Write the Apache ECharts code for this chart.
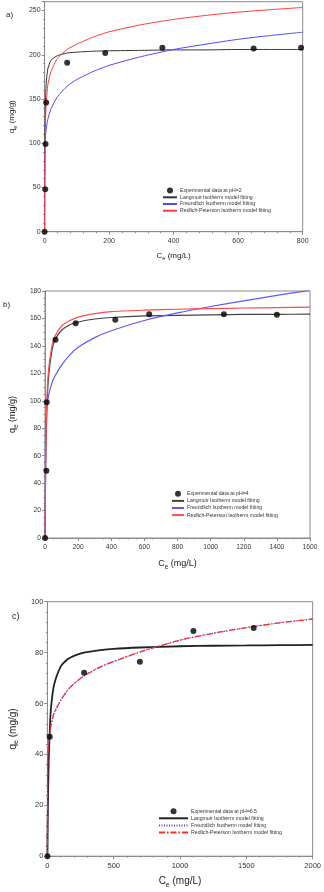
<!DOCTYPE html>
<html>
<head>
<meta charset="utf-8">
<script src="https://cdn.jsdelivr.net/npm/echarts@6/dist/echarts.min.js"></script>
<style>
  html, body { margin: 0; padding: 0; background: #fff; }
  #chart { width: 324px; height: 892px; }
</style>
</head>
<body>
<div id="chart"></div>
<script>
// panel a) pH=2
const ceA = [0, 2, 3, 5, 70, 188, 365, 648, 795];
const qeA = [0, 48, 99, 146, 191, 202, 208, 207, 208];
const fitCeA = [0, 0.5, 1, 2, 3, 5, 10, 20, 40, 70, 100, 150, 200, 300, 400, 500, 600, 700, 800];
const langA = [0, 60, 100, 130, 150, 168, 184, 194, 199, 202, 203, 204, 204.5, 205, 205.5, 205.5, 206, 206, 206];
const freuA = [0, 86, 94, 103, 108.5, 116, 127, 139, 152.5, 164.5, 172, 181, 188, 198, 206, 212, 217.5, 221.8, 225.5];
const rpA = [0, 55, 80, 108, 125, 145, 166, 181, 196, 206, 212, 220, 226, 234, 240, 244.5, 248.2, 251, 253.5];

// panel b) pH=4
const ceB = [0, 8, 10, 63, 185, 424, 629, 1080, 1400];
const qeB = [0, 49, 99, 144.5, 156.5, 159, 163, 163, 162.7];
const fitCeB = [0, 2, 5, 10, 20, 40, 60, 100, 150, 200, 300, 400, 600, 800, 1000, 1200, 1400, 1600];
const langB = [0, 31.7, 61.5, 89.5, 115.8, 135.7, 144.5, 151.4, 155.4, 157.4, 159.6, 160.7, 161.8, 162.3, 162.6, 162.9, 163, 163.1];
const freuB = [0, 77, 86, 94, 103, 112.5, 118, 126, 133.5, 139, 146, 151, 158.5, 164, 168.7, 172.8, 176.8, 180.5];
const rpB = [0, 35, 68, 97, 121, 139, 147, 154.5, 158.5, 161, 163.5, 165, 166, 166.7, 167.2, 167.6, 167.9, 168.2];

// panel c) pH=6.5
const ceC = [0, 17.6, 277, 697, 1101, 1555];
const qeC = [0, 46.9, 72.1, 76.4, 88.5, 89.7];
const fitCeC = [0, 2, 5, 10, 20, 30, 50, 100, 150, 200, 275, 400, 500, 700, 1000, 1250, 1500, 1750, 2000];
const langC = [0, 11.9, 24.3, 37.9, 52.3, 59.9, 67.3, 74.5, 77.3, 78.7, 80, 81, 81.5, 82, 82.5, 82.7, 82.8, 82.9, 83];
const freuC = [0, 35.9, 40.5, 44.9, 49.4, 52.2, 56.2, 61.2, 65.1, 67.8, 70.8, 74.4, 76.5, 80.3, 84.9, 87.6, 89.8, 91.7, 93.2];
const rpC = [0, 35.9, 40.5, 44.9, 49.4, 52.2, 56.2, 61.2, 65.1, 67.8, 70.8, 74.4, 76.5, 80.3, 84.9, 87.6, 89.8, 91.7, 93.2];

const legendNames = [
  'Langmuir Isotherm model fitting',
  'Freundlich Isotherm model fitting',
  'Redlich-Peterson Isotherm model fitting'
];
const expNames = ['Experimental data at pH=2', 'Experimental data at pH=4', 'Experimental data at pH=6.5'];

const FONT = '"Liberation Sans", Arial, sans-serif';
const AX = '#8a8a8a';

const zip = (xs, ys) => xs.map((x, i) => [x, ys[i]]);

function richName(fs) {
  return {
    n: { fontSize: fs, color: '#222', fontFamily: FONT },
    s: { fontSize: fs * 0.7, color: '#222', fontFamily: FONT, verticalAlign: 'bottom', padding: [0, 0, -2, 0] }
  };
}

function xAxisOf(idx, max, interval, minor, fs, nameFs, nameGap, labelMargin) {
  return {
    gridIndex: idx, type: 'value', min: 0, max: max, interval: interval,
    name: '{n|C}{s|e}{n| (mg/L)}',
    nameLocation: 'middle', nameGap: nameGap,
    nameTextStyle: { fontFamily: FONT, rich: richName(nameFs) },
    axisLine: { lineStyle: { color: AX, width: 1 } },
    axisTick: { length: 3, lineStyle: { color: AX } },
    minorTick: { show: true, splitNumber: minor, length: 1.5, lineStyle: { color: AX } },
    axisLabel: { fontSize: fs, color: '#333', fontFamily: FONT, margin: labelMargin, formatter: v => String(v) },
    splitLine: { show: false }
  };
}

function yAxisOf(idx, max, interval, minor, fs, nameFs, nameGap) {
  return {
    gridIndex: idx, type: 'value', min: 0, max: max, interval: interval,
    name: '{n|q}{s|e}{n| (mg/g)}',
    nameLocation: 'middle', nameGap: nameGap, nameRotate: 90,
    nameTextStyle: { fontFamily: FONT, rich: richName(nameFs) },
    axisLine: { lineStyle: { color: AX, width: 1 } },
    axisTick: { length: 3, lineStyle: { color: AX } },
    minorTick: { show: true, splitNumber: minor, length: 1.5, lineStyle: { color: AX } },
    axisLabel: { fontSize: fs, color: '#333', fontFamily: FONT, margin: 4,
                 showMaxLabel: max % interval === 0, formatter: v => String(v) },
    splitLine: { show: false }
  };
}

function lineSeries(p, idx, name, xs, ys, color, width, type) {
  return {
    name: p + '|' + name, type: 'line', xAxisIndex: idx, yAxisIndex: idx,
    data: zip(xs, ys), showSymbol: false, symbol: 'none',
    smooth: 0.2, clip: true,
    lineStyle: { color: color, width: width, type: type || 'solid' },
    itemStyle: { color: color }
  };
}

function scatterSeries(p, idx, name, xs, ys) {
  return {
    name: p + '|' + name, type: 'scatter', xAxisIndex: idx, yAxisIndex: idx,
    data: zip(xs, ys), symbol: 'circle', symbolSize: 6, z: 5,
    itemStyle: { color: '#000' }, clip: false
  };
}

function legendOf(p, exp, left, top, iw, gap) {
  return {
    orient: 'vertical', left: left, top: top, padding: 0,
    itemWidth: iw, itemHeight: 6, itemGap: gap,
    data: [{ name: p + '|' + exp }].concat(
      legendNames.map(n => ({ name: p + '|' + n, itemStyle: { opacity: 0 } }))),
    formatter: n => n.split('|')[1],
    textStyle: { fontSize: 5.2, color: '#333', fontFamily: FONT, lineHeight: 6, padding: [0, 0, 0, -2] },
    selectedMode: false
  };
}

const gridStyle = { show: true, borderColor: AX, borderWidth: 1, backgroundColor: 'transparent' };

const chart = echarts.init(document.getElementById('chart'));
chart.setOption({
  backgroundColor: '#fff',
  animation: false,
  grid: [
    Object.assign({ left: 40.3, top: 1.7, width: 262.4, height: 230 }, gridStyle),
    Object.assign({ left: 39.3, top: 291, width: 270.7, height: 247 }, gridStyle),
    Object.assign({ left: 44.3, top: 601.7, width: 270, height: 254.5 }, gridStyle)
  ],
  xAxis: [
    xAxisOf(0, 800, 200, 5, 7, 8, 20, 6),
    xAxisOf(1, 1600, 200, 4, 6.7, 9, 21, 6),
    xAxisOf(2, 2000, 500, 5, 7.5, 10, 20, 6)
  ],
  yAxis: [
    yAxisOf(0, 260, 50, 5, 7, 8, 22),
    yAxisOf(1, 180, 20, 4, 6.7, 9, 25),
    yAxisOf(2, 100, 20, 5, 7.5, 10, 24)
  ],
  legend: [
    legendOf('a', expNames[0], 162, 187.6, 14, 0.7),
    legendOf('b', expNames[1], 171, 490.8, 12, 1.1),
    legendOf('c', expNames[2], 158, 808.2, 29, 1.1)
  ],
  graphic: [
    { type: 'text', left: 6, top: 11, style: { text: 'a)', fontSize: 8, fill: '#222', fontFamily: FONT } },
    { type: 'text', left: 3, top: 301, style: { text: 'b)', fontSize: 8, fill: '#222', fontFamily: FONT } },
    { type: 'text', left: 12, top: 612, style: { text: 'c)', fontSize: 9, fill: '#222', fontFamily: FONT } }
  ],
  series: [
    lineSeries('a', 0, legendNames[0], fitCeA, langA, '#333333', 1),
    lineSeries('a', 0, legendNames[1], fitCeA, freuA, '#4a4aff', 1),
    lineSeries('a', 0, legendNames[2], fitCeA, rpA, '#ff3a3a', 1),
    scatterSeries('a', 0, expNames[0], ceA, qeA),

    lineSeries('b', 1, legendNames[0], fitCeB, langB, '#444444', 1.2),
    lineSeries('b', 1, legendNames[1], fitCeB, freuB, '#5a5aff', 1.2),
    lineSeries('b', 1, legendNames[2], fitCeB, rpB, '#ff4a4a', 1.2),
    scatterSeries('b', 1, expNames[1], ceB, qeB),

    lineSeries('c', 2, legendNames[0], fitCeC, langC, '#222222', 1.8),
    lineSeries('c', 2, legendNames[1], fitCeC, freuC, '#4a4aff', 1.2, [1, 1.5]),
    lineSeries('c', 2, legendNames[2], fitCeC, rpC, '#ff2a2a', 1.3, [6, 2, 1.5, 2]),
    scatterSeries('c', 2, expNames[2], ceC, qeC)
  ]
});
</script>
</body>
</html>
